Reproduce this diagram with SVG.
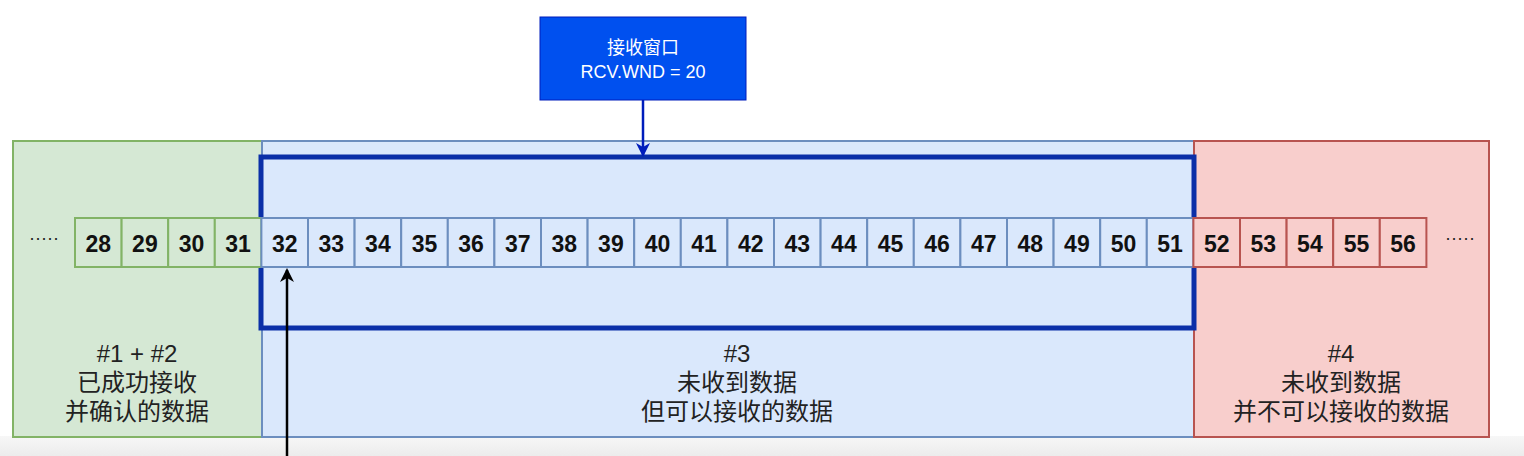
<svg xmlns="http://www.w3.org/2000/svg" width="1524" height="456" viewBox="0 0 1524 456">
<defs>
<style>
.cellG{fill:#d5e8d4;stroke:#82b366;stroke-width:2}
.cellB{fill:#dae8fc;stroke:#6c8ebf;stroke-width:2}
.cellR{fill:#f8cecc;stroke:#b85450;stroke-width:2}
.num{font-family:"Liberation Sans","DejaVu Sans",sans-serif;font-size:23px;font-weight:bold;fill:#111;text-anchor:middle}
.lbl{font-family:"Liberation Sans","Noto Sans CJK SC",sans-serif;font-size:24px;fill:#222;text-anchor:middle}
.top{font-family:"Liberation Sans","Noto Sans CJK SC",sans-serif;font-size:18px;fill:#fff;text-anchor:middle}
.dots{font-family:"Liberation Sans",sans-serif;font-size:18px;fill:#222;text-anchor:middle}
</style>
<marker id="ab" markerWidth="14" markerHeight="14" refX="12" refY="7" orient="auto" markerUnits="userSpaceOnUse" viewBox="0 0 14 14">
<path d="M0,0 L14,7 L0,14 L4,7 z" fill="#001DBC"/>
</marker>
<marker id="ak" markerWidth="14" markerHeight="14" refX="12" refY="7" orient="auto" markerUnits="userSpaceOnUse" viewBox="0 0 14 14">
<path d="M0,0 L14,7 L0,14 L4,7 z" fill="#000"/>
</marker>
<linearGradient id="bg" x1="0" y1="0" x2="0" y2="1">
<stop offset="0" stop-color="#f7f7f7"/>
<stop offset="1" stop-color="#ececec"/>
</linearGradient>
</defs>
<rect x="0" y="0" width="1524" height="456" fill="#fff"/>
<rect x="0" y="436" width="1524" height="20" fill="url(#bg)"/>

<g id="region-acked">
<rect x="13" y="141" width="249" height="296" fill="#d5e8d4" stroke="#82b366" stroke-width="2"/>
<text class="lbl" x="137" y="362">#1 + #2</text>
<text class="lbl" x="137" y="391">已成功接收</text>
<text class="lbl" x="137" y="420">并确认的数据</text>
</g>
<g id="region-receivable">
<rect x="262" y="141" width="932" height="296" fill="#dae8fc" stroke="#6c8ebf" stroke-width="2"/>
<text class="lbl" x="737" y="362">#3</text>
<text class="lbl" x="737" y="391">未收到数据</text>
<text class="lbl" x="737" y="420">但可以接收的数据</text>
</g>
<g id="region-not-receivable">
<rect x="1194" y="141" width="295" height="296" fill="#f8cecc" stroke="#b85450" stroke-width="2"/>
<text class="lbl" x="1341" y="362">#4</text>
<text class="lbl" x="1341" y="391">未收到数据</text>
<text class="lbl" x="1341" y="420">并不可以接收的数据</text>
</g>

<g id="window">
<rect x="261" y="157" width="933" height="171" fill="none" stroke="#0a2fa8" stroke-width="5"/>
</g>

<g id="cells">
<rect class="cellG" x="75" y="218" width="46.6" height="49"/><text class="num" x="98.3" y="252">28</text>
<rect class="cellG" x="121.6" y="218" width="46.6" height="49"/><text class="num" x="144.9" y="252">29</text>
<rect class="cellG" x="168.2" y="218" width="46.6" height="49"/><text class="num" x="191.5" y="252">30</text>
<rect class="cellG" x="214.8" y="218" width="46.6" height="49"/><text class="num" x="238.1" y="252">31</text>
<rect class="cellB" x="261.4" y="218" width="46.6" height="49"/><text class="num" x="284.7" y="252">32</text>
<rect class="cellB" x="308" y="218" width="46.6" height="49"/><text class="num" x="331.3" y="252">33</text>
<rect class="cellB" x="354.6" y="218" width="46.6" height="49"/><text class="num" x="377.9" y="252">34</text>
<rect class="cellB" x="401.2" y="218" width="46.6" height="49"/><text class="num" x="424.5" y="252">35</text>
<rect class="cellB" x="447.8" y="218" width="46.6" height="49"/><text class="num" x="471.1" y="252">36</text>
<rect class="cellB" x="494.4" y="218" width="46.6" height="49"/><text class="num" x="517.7" y="252">37</text>
<rect class="cellB" x="541" y="218" width="46.6" height="49"/><text class="num" x="564.3" y="252">38</text>
<rect class="cellB" x="587.6" y="218" width="46.6" height="49"/><text class="num" x="610.9" y="252">39</text>
<rect class="cellB" x="634.2" y="218" width="46.6" height="49"/><text class="num" x="657.5" y="252">40</text>
<rect class="cellB" x="680.8" y="218" width="46.6" height="49"/><text class="num" x="704.1" y="252">41</text>
<rect class="cellB" x="727.4" y="218" width="46.6" height="49"/><text class="num" x="750.7" y="252">42</text>
<rect class="cellB" x="774" y="218" width="46.6" height="49"/><text class="num" x="797.3" y="252">43</text>
<rect class="cellB" x="820.6" y="218" width="46.6" height="49"/><text class="num" x="843.9" y="252">44</text>
<rect class="cellB" x="867.2" y="218" width="46.6" height="49"/><text class="num" x="890.5" y="252">45</text>
<rect class="cellB" x="913.8" y="218" width="46.6" height="49"/><text class="num" x="937.1" y="252">46</text>
<rect class="cellB" x="960.4" y="218" width="46.6" height="49"/><text class="num" x="983.7" y="252">47</text>
<rect class="cellB" x="1007" y="218" width="46.6" height="49"/><text class="num" x="1030.3" y="252">48</text>
<rect class="cellB" x="1053.6" y="218" width="46.6" height="49"/><text class="num" x="1076.9" y="252">49</text>
<rect class="cellB" x="1100.2" y="218" width="46.6" height="49"/><text class="num" x="1123.5" y="252">50</text>
<rect class="cellB" x="1146.8" y="218" width="46.6" height="49"/><text class="num" x="1170.1" y="252">51</text>
<rect class="cellR" x="1193.4" y="218" width="46.6" height="49"/><text class="num" x="1216.7" y="252">52</text>
<rect class="cellR" x="1240" y="218" width="46.6" height="49"/><text class="num" x="1263.3" y="252">53</text>
<rect class="cellR" x="1286.6" y="218" width="46.6" height="49"/><text class="num" x="1309.9" y="252">54</text>
<rect class="cellR" x="1333.2" y="218" width="46.6" height="49"/><text class="num" x="1356.5" y="252">55</text>
<rect class="cellR" x="1379.8" y="218" width="46.6" height="49"/><text class="num" x="1403.1" y="252">56</text>
<text class="dots" x="44" y="244">·····</text>
<text class="dots" x="1460" y="244">·····</text>
</g>

<g id="rcv-wnd">
<rect x="540" y="17" width="206" height="83" fill="#0050ef" stroke="#001DBC" stroke-width="1"/>
<text class="top" x="643" y="54">接收窗口</text>
<text class="top" x="643" y="78">RCV.WND = 20</text>
</g>

<g id="connectors">
<line x1="643" y1="100" x2="643" y2="155" stroke="#001DBC" stroke-width="2.5" marker-end="url(#ab)"/>
<line x1="287" y1="456" x2="287" y2="270" stroke="#000" stroke-width="2.5" marker-end="url(#ak)"/>
</g>
</svg>
